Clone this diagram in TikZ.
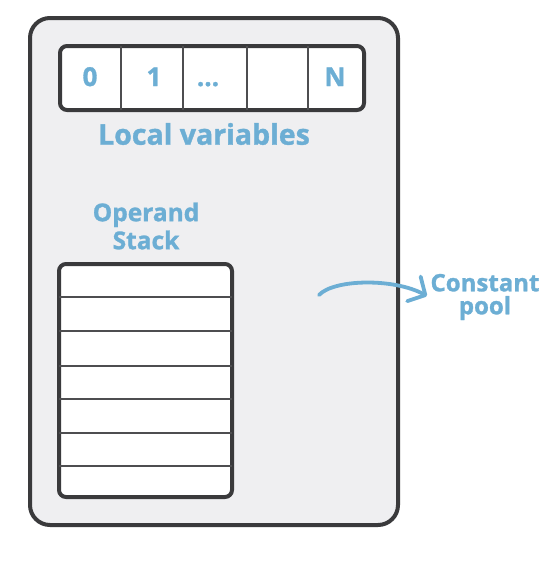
\documentclass[tikz,border=0pt]{standalone}
\usepackage{fontspec}
\setmainfont{Open Sans}[BoldFeatures={FakeBold=1.2}]
\usetikzlibrary{arrows.meta}
\definecolor{lbl}{RGB}{108,174,212}
\definecolor{edge}{RGB}{58,58,60}
\definecolor{panel}{RGB}{239,239,241}
\tikzset{
  frame/.style={draw=edge, line width=4pt, fill=panel, rounded corners=20pt},
  box/.style={draw=edge, line width=4pt, fill=white, rounded corners=7pt},
  divider/.style={draw=edge!90, line width=1.5pt},
  lbltext/.style={text=lbl, align=center, inner sep=0pt},
  bigtext/.style={text=lbl, font=\bfseries\fontsize{28.5}{30}\selectfont, inner sep=0pt},
  celltext/.style={text=lbl, font=\bfseries\fontsize{26}{28}\selectfont, inner sep=0pt, anchor=base},
  flow/.style={draw=lbl, line width=3.8pt, line cap=round, -{Straight Barb[length=13pt,width=28pt,round]}}
}
\begin{document}
\begin{tikzpicture}[x=1pt,y=-1pt]
\useasboundingbox (0,0) rectangle (558,562);
\fill[white] (0,0) rectangle (558,562);
% frame
\path[frame] (30,18) rectangle (398,525);
% local variables array
\path[box] (60,46) rectangle (364,110);
\foreach \xx in {121,183,247,308} \draw[divider] (\xx,46) -- (\xx,110);
\node[celltext] (c0) at (90,86) {0};
\node[celltext] (c1) at (154,86) {1};
\node[celltext] (c2) at (208,86) {...};
\node[celltext] (cN) at (335,86) {N};
\node[bigtext] (lv) at (204,134) {Local variables};
% operand stack
\node[lbltext, font=\bfseries\fontsize{24.5}{28}\selectfont] (os) at (146,226) {Operand\\Stack};
\path[box] (59,264) rectangle (232,497);
\foreach \yy in {297,331,366,399,433,466} \draw[divider] (59,\yy) -- (232,\yy);
% constant pool
\node[lbltext, font=\bfseries\fontsize{24}{23}\selectfont] (cp) at (485,297) {Constant\\pool};
\coordinate (as) at (319,295);
\coordinate (ae) at (427,296);
\draw[flow] (as) .. controls (334,279) and (394,278) .. (ae);
\end{tikzpicture}
\end{document}
